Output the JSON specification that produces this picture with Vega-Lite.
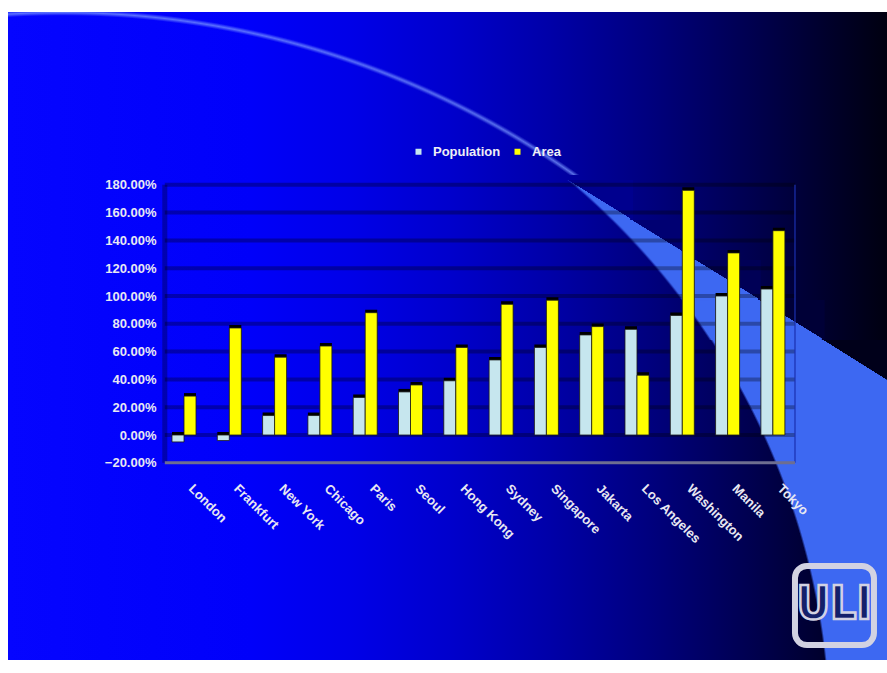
{
  "$schema": "https://vega.github.io/schema/vega-lite/v6.json",
  "width": 879,
  "height": 648,
  "autosize": {"type": "none"},
  "padding": {"left": 8, "top": 12, "right": 0, "bottom": 13},
  "background": "#ffffff",
  "config": {
    "view": {"stroke": null},
    "font": "Liberation Sans",
    "axis": {"zindex": 1, "title": null, "domain": false, "ticks": false, "tickSize": 0, "grid": false, "labelFont": "Liberation Sans", "labelFontWeight": "bold", "labelFontSize": 13, "labelColor": "#E8E8F2"}
  },
  "datasets": {
    "one": [{"k": 1}],
    "grid": [{"v": 0}, {"v": 0.2}, {"v": 0.4}, {"v": 0.6}, {"v": 0.8}, {"v": 1.0}, {"v": 1.2}, {"v": 1.4}, {"v": 1.6}, {"v": 1.8}],
    "cities": [
      {"city": "London", "series": "Population", "value": -0.05},
      {"city": "London", "series": "Area", "value": 0.28},
      {"city": "Frankfurt", "series": "Population", "value": -0.04},
      {"city": "Frankfurt", "series": "Area", "value": 0.77},
      {"city": "New York", "series": "Population", "value": 0.14},
      {"city": "New York", "series": "Area", "value": 0.56},
      {"city": "Chicago", "series": "Population", "value": 0.14},
      {"city": "Chicago", "series": "Area", "value": 0.64},
      {"city": "Paris", "series": "Population", "value": 0.27},
      {"city": "Paris", "series": "Area", "value": 0.88},
      {"city": "Seoul", "series": "Population", "value": 0.31},
      {"city": "Seoul", "series": "Area", "value": 0.36},
      {"city": "Hong Kong", "series": "Population", "value": 0.39},
      {"city": "Hong Kong", "series": "Area", "value": 0.63},
      {"city": "Sydney", "series": "Population", "value": 0.54},
      {"city": "Sydney", "series": "Area", "value": 0.94},
      {"city": "Singapore", "series": "Population", "value": 0.63},
      {"city": "Singapore", "series": "Area", "value": 0.97},
      {"city": "Jakarta", "series": "Population", "value": 0.72},
      {"city": "Jakarta", "series": "Area", "value": 0.78},
      {"city": "Los Angeles", "series": "Population", "value": 0.76},
      {"city": "Los Angeles", "series": "Area", "value": 0.43},
      {"city": "Washington", "series": "Population", "value": 0.86},
      {"city": "Washington", "series": "Area", "value": 1.76},
      {"city": "Manila", "series": "Population", "value": 1.0},
      {"city": "Manila", "series": "Area", "value": 1.31},
      {"city": "Tokyo", "series": "Population", "value": 1.05},
      {"city": "Tokyo", "series": "Area", "value": 1.47}
    ]
  },
  "layer": [
    {
      "data": {"name": "one"},
      "mark": {"type": "rect", "strokeWidth": 0, "fill": {"gradient": "linear", "x1": 0, "y1": 0, "x2": 1, "y2": 0, "stops": [
        {"offset": 0, "color": "#0505FF"},
        {"offset": 0.275, "color": "#0000FA"},
        {"offset": 0.389, "color": "#0000E8"},
        {"offset": 0.503, "color": "#0000CC"},
        {"offset": 0.617, "color": "#0000A8"},
        {"offset": 0.73, "color": "#00007E"},
        {"offset": 0.844, "color": "#000050"},
        {"offset": 0.935, "color": "#00002A"},
        {"offset": 1, "color": "#000010"}]}},
      "encoding": {}
    },
    {
      "data": {"name": "one"},
      "mark": {"type": "rect", "strokeWidth": 0, "fill": {"gradient": "radial", "x1": 0.1058, "y1": 0.748, "r1": 0, "x2": 0.1058, "y2": 0.748, "r2": 0.8305, "stops": [
        {"offset": 0, "color": "rgba(61,104,242,0)"},
        {"offset": 0.997, "color": "rgba(61,104,242,0)"},
        {"offset": 1, "color": "#3D68F2"}]}},
      "encoding": {
        "y": {"datum": 0.3957, "type": "quantitative"},
        "y2": {"datum": -1.6187}
      }
    },
    {
      "data": {"name": "one"},
      "mark": {"type": "rect", "strokeWidth": 0, "fill": {"gradient": "radial", "x1": 0.1491, "y1": 1.3626, "r1": 0, "x2": 0.1491, "y2": 1.3626, "r2": 1.1704, "stops": [
        {"offset": 0, "color": "rgba(61,104,242,0)"},
        {"offset": 0.997, "color": "rgba(61,104,242,0)"},
        {"offset": 1, "color": "#3D68F2"}]}},
      "encoding": {
        "x": {"datum": "London", "type": "nominal", "bandPosition": -6.8333},
        "x2": {"datum": "London", "bandPosition": 19.09},
        "y": {"datum": 1.8345, "type": "quantitative"},
        "y2": {"datum": 1.5468}
      }
    },
    {
      "data": {"name": "one"},
      "mark": {"type": "rect", "strokeWidth": 0, "fill": {"gradient": "radial", "x1": 0.1353, "y1": 1.2244, "r1": 0, "x2": 0.1353, "y2": 1.2244, "r2": 1.0618, "stops": [
        {"offset": 0, "color": "rgba(61,104,242,0)"},
        {"offset": 0.997, "color": "rgba(61,104,242,0)"},
        {"offset": 1, "color": "#3D68F2"}]}},
      "encoding": {
        "x": {"datum": "London", "type": "nominal", "bandPosition": -6.8333},
        "x2": {"datum": "London", "bandPosition": 21.75},
        "y": {"datum": 1.5468, "type": "quantitative"},
        "y2": {"datum": 1.259}
      }
    },
    {
      "data": {"name": "one"},
      "mark": {"type": "rect", "strokeWidth": 0, "fill": {"gradient": "radial", "x1": 0.1238, "y1": 1.1096, "r1": 0, "x2": 0.1238, "y2": 1.1096, "r2": 0.9716, "stops": [
        {"offset": 0, "color": "rgba(61,104,242,0)"},
        {"offset": 0.997, "color": "rgba(61,104,242,0)"},
        {"offset": 1, "color": "#3D68F2"}]}},
      "encoding": {
        "x": {"datum": "London", "type": "nominal", "bandPosition": -6.8333},
        "x2": {"datum": "London", "bandPosition": 24.41},
        "y": {"datum": 1.259, "type": "quantitative"},
        "y2": {"datum": 0.9712}
      }
    },
    {
      "data": {"name": "one"},
      "mark": {"type": "rect", "strokeWidth": 0, "fill": {"gradient": "radial", "x1": 0.1141, "y1": 1.0128, "r1": 0, "x2": 0.1141, "y2": 1.0128, "r2": 0.8955, "stops": [
        {"offset": 0, "color": "rgba(61,104,242,0)"},
        {"offset": 0.997, "color": "rgba(61,104,242,0)"},
        {"offset": 1, "color": "#3D68F2"}]}},
      "encoding": {
        "x": {"datum": "London", "type": "nominal", "bandPosition": -6.8333},
        "x2": {"datum": "London", "bandPosition": 27.07},
        "y": {"datum": 0.9712, "type": "quantitative"},
        "y2": {"datum": 0.6835}
      }
    },
    {
      "data": {"name": "one"},
      "mark": {"type": "rect", "strokeWidth": 0, "fill": {"gradient": "radial", "x1": 0.1058, "y1": 0.93, "r1": 0, "x2": 0.1058, "y2": 0.93, "r2": 0.8305, "stops": [
        {"offset": 0, "color": "rgba(61,104,242,0)"},
        {"offset": 0.997, "color": "rgba(61,104,242,0)"},
        {"offset": 1, "color": "#3D68F2"}]}},
      "encoding": {
        "y": {"datum": 0.6835, "type": "quantitative"},
        "y2": {"datum": 0.3957}
      }
    },
    {
      "data": {"name": "one"},
      "mark": {"type": "rect", "strokeWidth": 0, "fill": {"gradient": "linear", "x1": 0, "y1": 1, "x2": 1, "y2": 0, "stops": [
        {"offset": 0, "color": "rgba(0,0,142,0)"},
        {"offset": 0.499, "color": "rgba(0,0,142,0)"},
        {"offset": 0.501, "color": "#00008E"},
        {"offset": 1, "color": "#00008E"}]}},
      "encoding": {
        "x": {"datum": "London", "type": "nominal", "bandPosition": 16.496},
        "x2": {"datum": "London", "bandPosition": 19.2},
        "y": {"datum": 1.8345, "type": "quantitative"},
        "y2": {"datum": 1.5468}
      }
    },
    {
      "data": {"name": "one"},
      "mark": {"type": "rect", "strokeWidth": 0, "fill": {"gradient": "linear", "x1": 0, "y1": 1, "x2": 1, "y2": 0, "stops": [
        {"offset": 0, "color": "rgba(0,0,114,0)"},
        {"offset": 0.499, "color": "rgba(0,0,114,0)"},
        {"offset": 0.501, "color": "#000072"},
        {"offset": 1, "color": "#000072"}]}},
      "encoding": {
        "x": {"datum": "London", "type": "nominal", "bandPosition": 19.154},
        "x2": {"datum": "London", "bandPosition": 21.86},
        "y": {"datum": 1.5468, "type": "quantitative"},
        "y2": {"datum": 1.259}
      }
    },
    {
      "data": {"name": "one"},
      "mark": {"type": "rect", "strokeWidth": 0, "fill": {"gradient": "linear", "x1": 0, "y1": 1, "x2": 1, "y2": 0, "stops": [
        {"offset": 0, "color": "rgba(0,0,86,0)"},
        {"offset": 0.499, "color": "rgba(0,0,86,0)"},
        {"offset": 0.501, "color": "#000056"},
        {"offset": 1, "color": "#000056"}]}},
      "encoding": {
        "x": {"datum": "London", "type": "nominal", "bandPosition": 21.813},
        "x2": {"datum": "London", "bandPosition": 24.52},
        "y": {"datum": 1.259, "type": "quantitative"},
        "y2": {"datum": 0.9712}
      }
    },
    {
      "data": {"name": "one"},
      "mark": {"type": "rect", "strokeWidth": 0, "fill": {"gradient": "linear", "x1": 0, "y1": 1, "x2": 1, "y2": 0, "stops": [
        {"offset": 0, "color": "rgba(0,0,55,0)"},
        {"offset": 0.499, "color": "rgba(0,0,55,0)"},
        {"offset": 0.501, "color": "#000037"},
        {"offset": 1, "color": "#000037"}]}},
      "encoding": {
        "x": {"datum": "London", "type": "nominal", "bandPosition": 24.471},
        "x2": {"datum": "London", "bandPosition": 27.18},
        "y": {"datum": 0.9712, "type": "quantitative"},
        "y2": {"datum": 0.6835}
      }
    },
    {
      "data": {"name": "one"},
      "mark": {"type": "rect", "strokeWidth": 0, "fill": {"gradient": "linear", "x1": 0, "y1": 1, "x2": 1, "y2": 0, "stops": [
        {"offset": 0, "color": "rgba(0,0,26,0)"},
        {"offset": 0.499, "color": "rgba(0,0,26,0)"},
        {"offset": 0.501, "color": "#00001A"},
        {"offset": 1, "color": "#00001A"}]}},
      "encoding": {
        "x": {"datum": "London", "type": "nominal", "bandPosition": 27.133},
        "x2": {"datum": "London", "bandPosition": 29.792},
        "y": {"datum": 0.6835, "type": "quantitative"},
        "y2": {"datum": 0.3957}
      }
    },
    {
      "data": {"name": "one"},
      "mark": {"type": "rect", "strokeWidth": 0, "fill": {"gradient": "radial", "x1": 0.0614, "y1": 1.4198, "r1": 0, "x2": 0.0614, "y2": 1.4198, "r2": 1.017, "stops": [
        {"offset": 0, "color": "rgba(120,150,255,0)"},
        {"offset": 0.9915, "color": "rgba(120,150,255,0)"},
        {"offset": 0.995, "color": "rgba(120,150,255,0.75)"},
        {"offset": 0.9985, "color": "rgba(120,150,255,0)"},
        {"offset": 1, "color": "rgba(120,150,255,0)"}]}},
      "encoding": {
        "y": {"datum": 3.0432, "type": "quantitative"},
        "y2": {"datum": 1.8705}
      }
    },
    {
      "data": {"name": "grid"},
      "mark": {"type": "rule", "color": "#000000", "opacity": 0.3, "strokeWidth": 4},
      "encoding": {
        "x": {"datum": "London", "type": "nominal", "bandPosition": -0.3},
        "x2": {"datum": "Tokyo", "bandPosition": 1.42},
        "y": {"field": "v", "type": "quantitative"}
      }
    },
    {
      "data": {"name": "one"},
      "mark": {"type": "rule", "color": "#000000", "opacity": 0.3, "strokeWidth": 5},
      "encoding": {
        "x": {"datum": "London", "type": "nominal", "bandPosition": -0.3},
        "y": {"datum": 1.8, "type": "quantitative"},
        "y2": {"datum": -0.2}
      }
    },
    {
      "data": {"name": "one"},
      "mark": {"type": "rule", "color": "#1A30B0", "opacity": 0.8, "strokeWidth": 1.5},
      "encoding": {
        "x": {"datum": "Tokyo", "type": "nominal", "bandPosition": 1.42},
        "y": {"datum": 1.8, "type": "quantitative"},
        "y2": {"datum": -0.2}
      }
    },
    {
      "data": {"name": "one"},
      "mark": {"type": "rule", "color": "#6E6E90", "strokeWidth": 3},
      "encoding": {
        "x": {"datum": "London", "type": "nominal", "bandPosition": -0.3},
        "x2": {"datum": "Tokyo", "bandPosition": 1.42},
        "y": {"datum": -0.2, "type": "quantitative"}
      }
    },
    {
      "data": {"name": "cities"},
      "mark": {"type": "bar", "color": "#000000", "xOffset": 3, "yOffset": -3},
      "encoding": {
        "x": {"field": "city", "type": "nominal", "sort": null},
        "xOffset": {"field": "series", "type": "nominal", "sort": ["Population", "Area"]},
        "y": {"field": "value", "type": "quantitative"}
      }
    },
    {
      "data": {"name": "cities"},
      "mark": {"type": "bar", "stroke": "#1a1a1a", "strokeWidth": 0.8},
      "encoding": {
        "x": {
          "field": "city", "type": "nominal", "sort": null,
          "scale": {"domain": ["London", "Frankfurt", "New York", "Chicago", "Paris", "Seoul", "Hong Kong", "Sydney", "Singapore", "Jakarta", "Los Angeles", "Washington", "Manila", "Tokyo"], "range": [164, 776.9], "paddingInner": 0.47, "paddingOuter": 0},
          "axis": {"orient": "bottom", "offset": -197, "zindex": 1, "labelAngle": 45, "labelAlign": "left", "labelBaseline": "top", "labelPadding": 19, "labelOffset": 11, "labelOverlap": false}
        },
        "xOffset": {"field": "series", "type": "nominal", "sort": ["Population", "Area"], "scale": {"domain": ["Population", "Area"], "paddingInner": 0, "paddingOuter": 0}},
        "y": {
          "field": "value", "type": "quantitative",
          "scale": {"domain": [-1.6187, 3.0432], "nice": false, "zero": false},
          "axis": {"orient": "left", "offset": -162, "zindex": 1, "values": [-0.2, 0, 0.2, 0.4, 0.6, 0.8, 1.0, 1.2, 1.4, 1.6, 1.8], "format": ".2%", "labelPadding": 14, "labelOverlap": false}
        },
        "color": {
          "field": "series", "type": "nominal",
          "scale": {"domain": ["Population", "Area"], "range": ["#C6E6EE", "#FFFF00"]},
          "legend": {"orient": "none", "legendX": 404, "legendY": 133, "direction": "horizontal", "title": null, "symbolType": "square", "symbolSize": 36, "symbolStrokeWidth": 0, "labelFont": "Liberation Sans", "labelFontSize": 13, "labelFontWeight": "bold", "labelColor": "#EEEEF4", "columnPadding": 10, "labelOffset": 8, "padding": 0}
        }
      }
    },
    {
      "data": {"name": "one"},
      "mark": {"type": "rect", "fillOpacity": 0, "stroke": "#D2D2E2", "strokeWidth": 6, "cornerRadius": 12},
      "encoding": {
        "x": {"datum": "Tokyo", "type": "nominal", "bandPosition": 1.42},
        "x2": {"datum": "Tokyo", "bandPosition": 4.71},
        "y": {"datum": -0.942, "type": "quantitative"},
        "y2": {"datum": -1.511}
      }
    },
    {
      "data": {"name": "one"},
      "mark": {"type": "text", "text": "ULI", "font": "Liberation Sans Narrow, DejaVu Sans Condensed, Liberation Sans", "fontWeight": "bold", "fontSize": 46, "fill": "#14206A", "stroke": "#D2D2E2", "strokeWidth": 2.5, "align": "center", "baseline": "middle"},
      "encoding": {
        "x": {"datum": "Tokyo", "type": "nominal", "bandPosition": 3.05},
        "y": {"datum": -1.223, "type": "quantitative"}
      }
    }
  ]
}
